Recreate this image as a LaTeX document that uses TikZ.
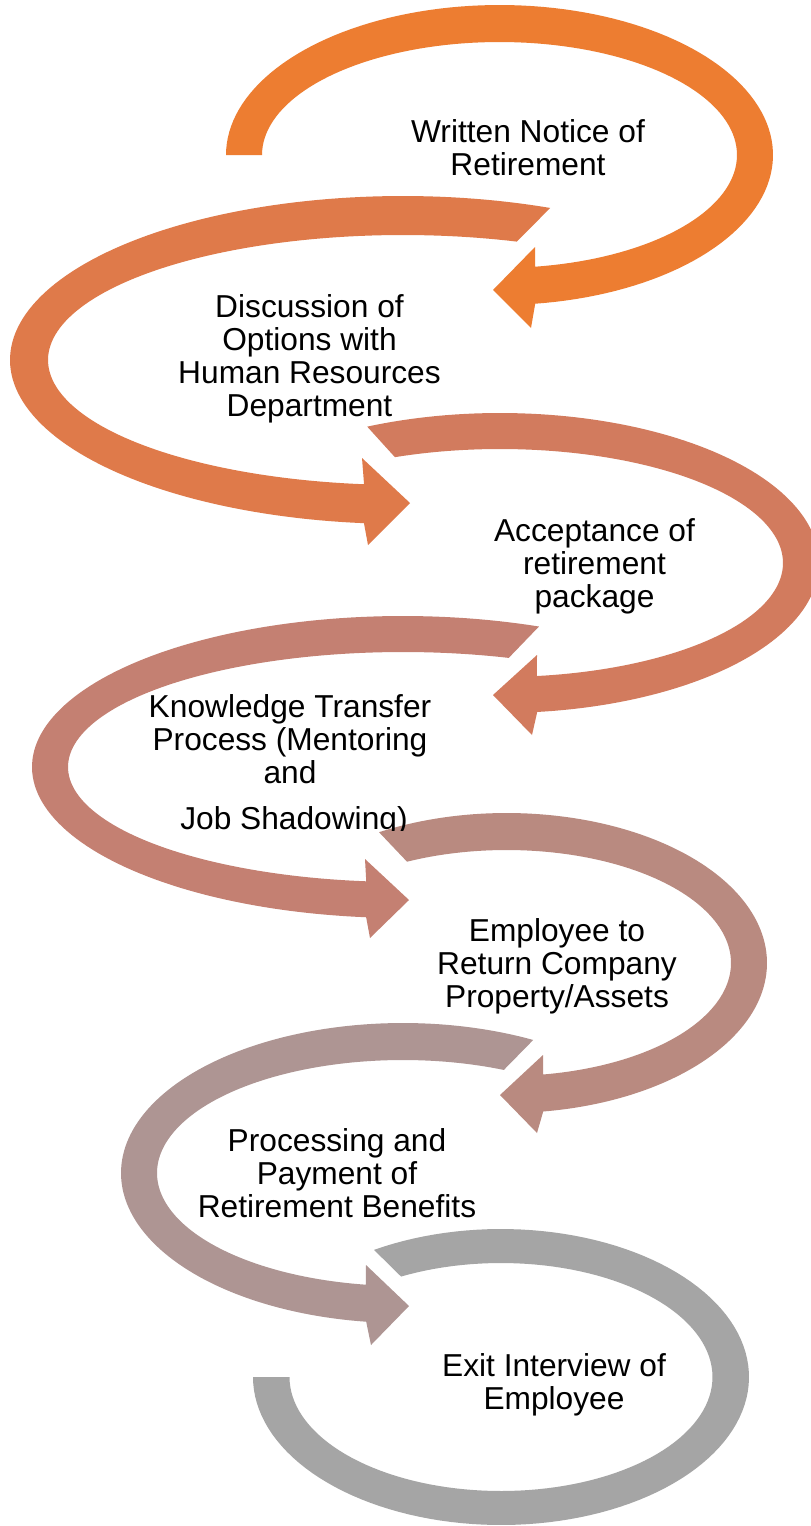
\documentclass[tikz,border=0pt]{standalone}
\usepackage{fontspec}
\setmainfont{Liberation Sans}
\definecolor{cA}{HTML}{ED7D31}
\definecolor{cB}{HTML}{DF7A4A}
\definecolor{cC}{HTML}{D27B5E}
\definecolor{cD}{HTML}{C48072}
\definecolor{cE}{HTML}{B98A80}
\definecolor{cF}{HTML}{AE9593}
\definecolor{cG}{HTML}{A5A5A5}
\newcommand\steptext[1]{\vtop{\baselineskip=16.5pt\lineskiplimit=-100pt\halign{\hfil##\hfil\cr#1\crcr}}}
\begin{document}
\begin{tikzpicture}[x=0.5pt,y=-0.5pt,
  txt/.style={inner sep=0pt, anchor=base, font=\fontsize{15.85pt}{16.5pt}\selectfont},
  band/.style={draw=none}]
\useasboundingbox (0,0) rectangle (810,1526);
\fill[white] (0,0) rectangle (810,1526);

% 1
\fill[band,cA] plot[domain=180:442.5,samples=120] ({499.5+273.5*cos(\x)},{155+150*sin(\x)})
  -- (531,328) -- (493,290) -- (535,247)
  -- plot[domain=441.4:180,samples=120] ({499.5+237.5*cos(\x)},{155+113*sin(\x)}) -- cycle;
% 2
\fill[band,cB] plot[domain=292:95.7,samples=120] ({403+393*cos(\x)},{360+164*sin(\x)})
  -- (368,545) -- (410,503) -- (362,458)
  -- plot[domain=96.3:288.7,samples=120] ({403+355*cos(\x)},{360+125*sin(\x)}) -- cycle;
% 3
\fill[band,cC] plot[domain=245.4:443.3,samples=120] ({500+319*cos(\x)},{563+150*sin(\x)})
  -- (532,735) -- (493,695) -- (537,655)
  -- plot[domain=442.5:248.2,samples=120] ({500+283*cos(\x)},{563+114*sin(\x)}) -- cycle;
% 4
\fill[band,cD] plot[domain=291.5:95.7,samples=120] ({403+371*cos(\x)},{767+151*sin(\x)})
  -- (370,938) -- (409,900) -- (365,859)
  -- plot[domain=96.3:288.4,samples=120] ({403+335*cos(\x)},{767+115*sin(\x)}) -- cycle;
% 5
\fill[band,cE] plot[domain=240.7:441.9,samples=120] ({506.5+260.5*cos(\x)},{963+150*sin(\x)})
  -- (537,1133) -- (500,1095) -- (543,1055)
  -- plot[domain=440.6:243.7,samples=120] ({506.5+224.5*cos(\x)},{963+113*sin(\x)}) -- cycle;
% 6
\fill[band,cF] plot[domain=297.5:97.5,samples=120] ({403+282*cos(\x)},{1173+150*sin(\x)})
  -- (371,1345) -- (409,1306) -- (366,1265)
  -- plot[domain=98.7:294.2,samples=120] ({403+246*cos(\x)},{1173+113*sin(\x)}) -- cycle;
% 7
\fill[band,cG] plot[domain=239.2:540,samples=120] ({501+248*cos(\x)},{1377+148*sin(\x)})
  -- plot[domain=540:241.8,samples=120] ({501+211.5*cos(\x)},{1377+114*sin(\x)}) -- cycle;

\node[txt] (t1) at (528,142) {\steptext{Written Notice of\cr Retirement}};
\node[txt] (t2) at (309.5,317) {\steptext{Discussion of\cr Options with\cr Human Resources\cr Department}};
\node[txt] (t3) at (594.5,541.7) {\steptext{Acceptance of\cr retirement\cr package}};
\begin{scope}
\clip (0,600) rectangle (810,830.5);
\node[txt] (t4) at (290,717) {\steptext{Knowledge Transfer\cr Process (Mentoring\cr and\cr\noalign{\vskip6.5pt}\hspace{4pt}Job Shadowing)}};
\end{scope}
\node[txt] (t5) at (557,941.7) {\steptext{Employee to\cr Return Company\cr Property/Assets}};
\node[txt] (t6) at (337,1151.7) {\steptext{Processing and\cr Payment of\cr Retirement Benefits}};
\node[txt] (t7) at (554,1376.7) {\steptext{Exit Interview of\cr Employee}};
\end{tikzpicture}
\end{document}
